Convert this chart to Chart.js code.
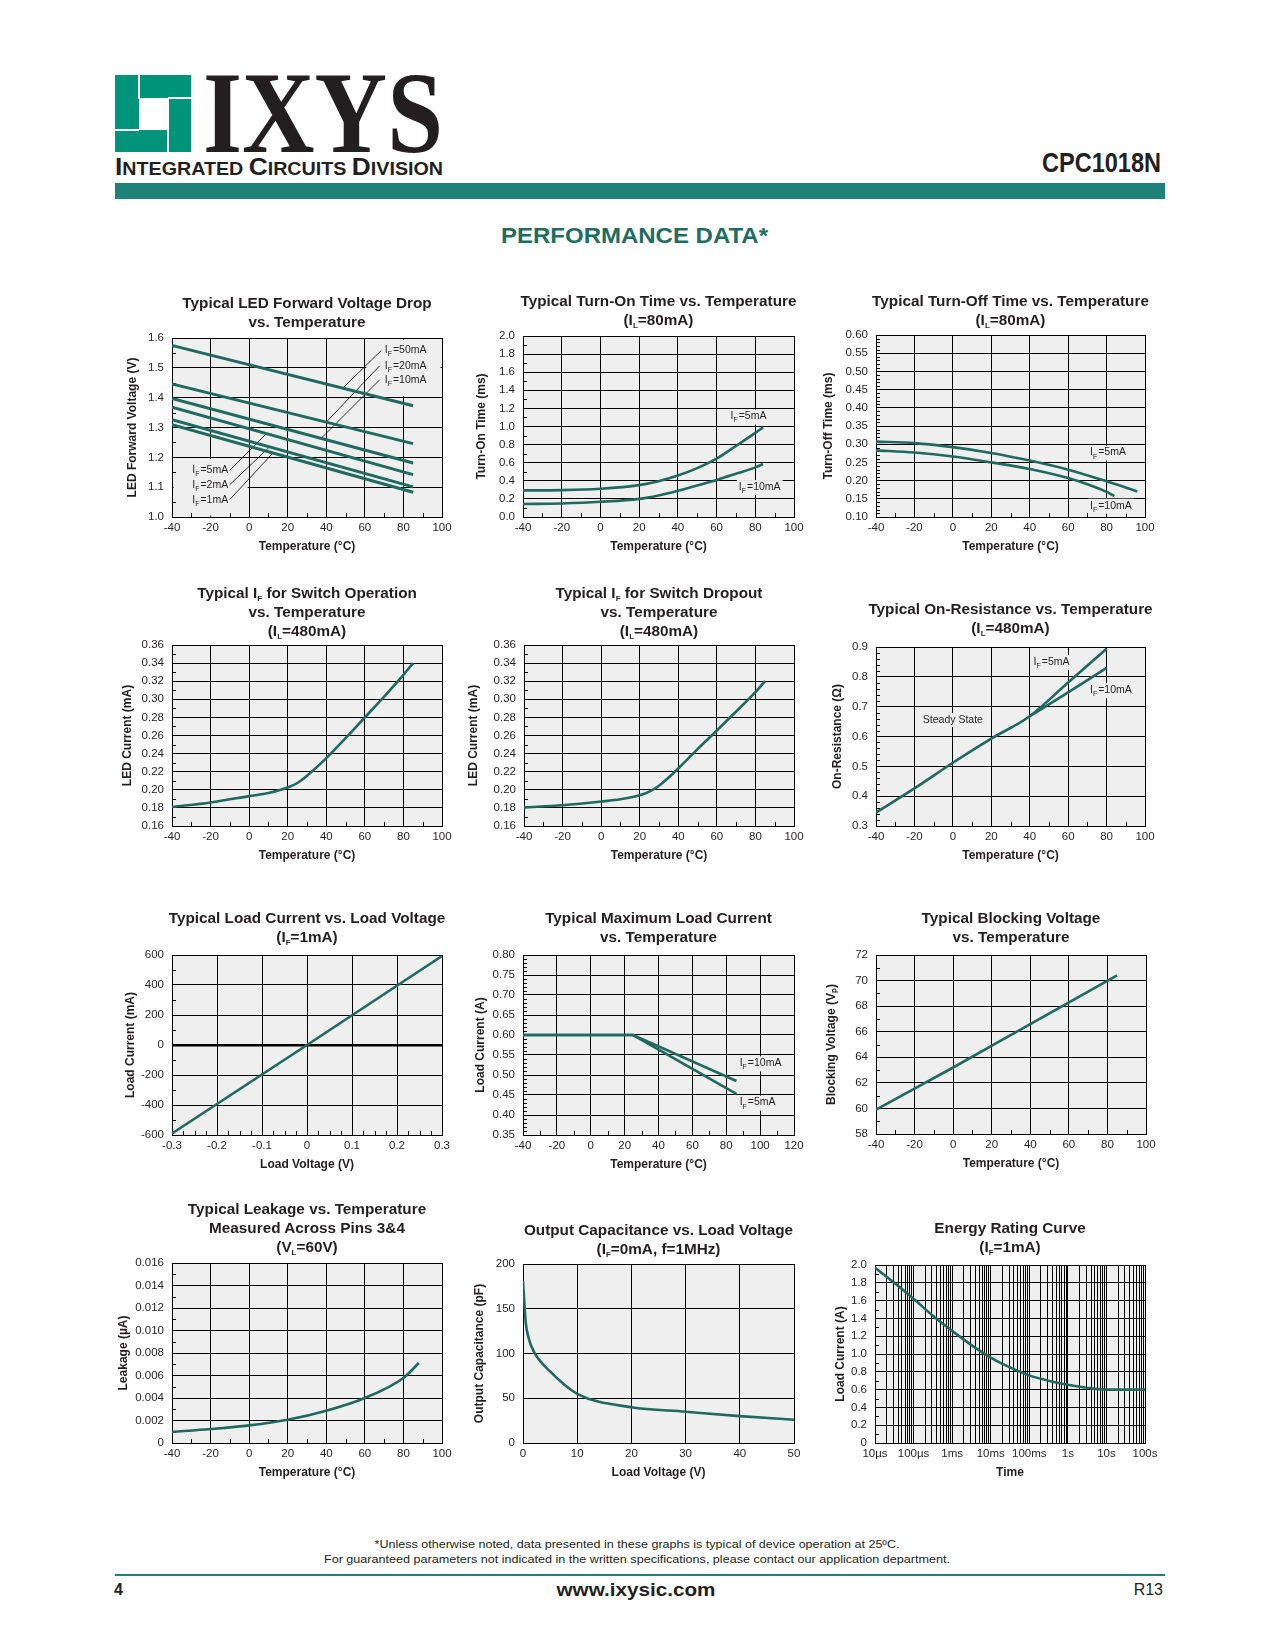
<!DOCTYPE html>
<html>
<head>
<meta charset="utf-8">
<title>CPC1018N Performance Data</title>
<script src="https://cdn.jsdelivr.net/npm/chart.js@4.4.1/dist/chart.umd.min.js"></script>
<style>
  body { margin: 0; background: #fff; }
  #page { position: relative; width: 1275px; height: 1650px; overflow: hidden;
          font-family: "Liberation Sans", Arial, sans-serif; color: #231f20; }
  #page canvas { position: absolute; }
  .ttl { position: absolute; font-weight: bold; font-size: 15.3px; line-height: 19px;
         text-align: center; white-space: nowrap; }
  .ttl sub { font-size: 8px; line-height: 0; vertical-align: -3px; }
</style>
</head>
<body>
<div id="page">
<svg width="1275" height="1650" style="position:absolute;left:0;top:0" font-family="Liberation Sans, Arial, sans-serif">
  <!-- logo mark -->
  <rect x="115" y="75" width="76" height="77" fill="#00957b"/>
  <rect x="139" y="98" width="30" height="32" fill="#fff"/>
  <rect x="138" y="75" width="2" height="24" fill="#fff"/>
  <rect x="168" y="97" width="23" height="2" fill="#fff"/>
  <rect x="167" y="129" width="2" height="23" fill="#fff"/>
  <rect x="115" y="129" width="24" height="2" fill="#fff"/>
  <text x="203" y="152" font-family="Liberation Serif, serif" font-weight="bold" font-size="116"
        textLength="240" lengthAdjust="spacingAndGlyphs" fill="#231f20">IXYS</text>
  <text x="115" y="175" font-weight="bold" textLength="328" lengthAdjust="spacingAndGlyphs" fill="#231f20"><tspan font-size="24">I</tspan><tspan font-size="18">NTEGRATED </tspan><tspan font-size="24">C</tspan><tspan font-size="18">IRCUITS </tspan><tspan font-size="24">D</tspan><tspan font-size="18">IVISION</tspan></text>
  <text x="1042" y="172" font-weight="bold" font-size="28" textLength="119" lengthAdjust="spacingAndGlyphs" fill="#231f20">CPC1018N</text>
  <rect x="115" y="183" width="1050" height="16" fill="#1e8279"/>
  <text x="501" y="243" font-weight="bold" font-size="22" textLength="267" lengthAdjust="spacingAndGlyphs" fill="#1f6d62">PERFORMANCE DATA*</text>
  <!-- footer -->
  <text x="637" y="1548" font-size="11" text-anchor="middle" textLength="525" lengthAdjust="spacingAndGlyphs" fill="#231f20">*Unless otherwise noted, data presented in these graphs is typical of device operation at 25ºC.</text>
  <text x="637" y="1563" font-size="11" text-anchor="middle" textLength="626" lengthAdjust="spacingAndGlyphs" fill="#231f20">For guaranteed parameters not indicated in the written specifications, please contact our application department.</text>
  <rect x="115" y="1574" width="1050" height="2" fill="#1e8279"/>
  <text x="114" y="1595" font-weight="bold" font-size="16" fill="#231f20">4</text>
  <text x="636" y="1596" font-weight="bold" font-size="18" text-anchor="middle" textLength="159" lengthAdjust="spacingAndGlyphs" fill="#231f20">www.ixysic.com</text>
  <text x="1163" y="1595" font-size="16" text-anchor="end" fill="#231f20">R13</text>
</svg>
</div>
<script>
// ---- data ----

// Typical LED forward voltage drop vs. temperature
const vfTemps = [-40, 85];
const vf50mA = [1.575, 1.373];
const vf20mA = [1.446, 1.246];
const vf10mA = [1.397, 1.181];
const vf5mA  = [1.368, 1.142];
const vf2mA  = [1.326, 1.101];
const vf1mA  = [1.309, 1.083];
const vfTagNames = ['50mA', '20mA', '10mA', '5mA', '2mA', '1mA'];
const vfTagX = [70.3, 70.3, 70.3, -29.5, -29.5, -29.5];
const vfTagY = [1.558, 1.507, 1.460, 1.156, 1.108, 1.058];
const vfLeadFromX = [68.5, 67.7, 67.7, -10.1, -10.1, -10.1];
const vfLeadFromY = [1.558, 1.507, 1.460, 1.156, 1.108, 1.058];
const vfLeadToX = [48.7, 40.0, 37.4, 8.9, 10.6, 12.4];
const vfLeadToY = [1.433, 1.318, 1.264, 1.279, 1.235, 1.215];

// Typical turn-on time vs. temperature
const tonTemps = [-40, -20, 0, 20, 30, 40, 50, 60, 70, 80, 84];
const ton5mA  = [0.294, 0.297, 0.312, 0.352, 0.395, 0.458, 0.540, 0.645, 0.785, 0.930, 0.990];
const ton10mA = [0.143, 0.150, 0.168, 0.200, 0.238, 0.290, 0.348, 0.410, 0.478, 0.548, 0.585];
const tonTagNames = ['5mA', '10mA'];
const tonTagX = [67.2, 71.5];
const tonTagY = [1.11, 0.331];

// Typical turn-off time vs. temperature
const toffTemps5 = [-40, -20, 0, 20, 40, 60, 80, 96];
const toff5mA = [0.307, 0.303, 0.292, 0.276, 0.255, 0.230, 0.198, 0.170];
const toffTemps10 = [-40, -20, 0, 20, 40, 60, 70, 80, 84];
const toff10mA = [0.283, 0.277, 0.266, 0.250, 0.232, 0.207, 0.190, 0.169, 0.158];
const toffTagNames = ['5mA', '10mA'];
const toffTagX = [71.4, 71.4];
const toffTagY = [0.277, 0.131];

// Typical IF for switch operation / dropout
const ifTemps = [-40, -20, 0, 10, 20, 25, 30, 40, 50, 60, 70, 80, 85];
const ifOperate = [0.181, 0.186, 0.193, 0.1965, 0.2025, 0.2075, 0.2155, 0.235, 0.257, 0.280, 0.303, 0.327, 0.340];
const ifDropout = [0.1806, 0.183, 0.187, 0.1895, 0.194, 0.198, 0.2045, 0.2235, 0.245, 0.2655, 0.2865, 0.308, 0.320];

// Typical on-resistance vs. temperature
const ronTemps5 = [-40, -20, 0, 20, 40, 60, 80];
const ron5mA = [0.345, 0.426, 0.512, 0.593, 0.668, 0.781, 0.894];
const ronTemps10 = [40, 60, 80];
const ron10mA = [0.668, 0.748, 0.830];
const ronTagNames = ['5mA', '10mA'];
const ronTagX = [42.0, 71.4];
const ronTagY = [0.850, 0.755];

// Typical load current vs. load voltage
const lvVolts = [-0.3, 0, 0.3];
const lvCurrent = [-590, 0, 593];

// Typical maximum load current vs. temperature
const mlcTemps = [-40, 25, 86];
const mlc10mA = [0.600, 0.600, 0.485];
const mlc5mA  = [0.600, 0.600, 0.453];
const mlcTagNames = ['10mA', '5mA'];
const mlcTagX = [87.9, 87.9];
const mlcTagY = [0.529, 0.431];

// Typical blocking voltage vs. temperature
const bvTemps = [-40, 0, 40, 85];
const bvVolts = [59.9, 63.2, 66.6, 70.4];

// Typical leakage vs. temperature
const lkTemps = [-40, -20, 0, 20, 40, 60, 80, 88];
const lkCurrent = [0.00098, 0.00124, 0.00157, 0.00207, 0.00287, 0.0040, 0.00578, 0.00711];

// Output capacitance vs. load voltage
const ocVolts = [0, 0.5, 1, 2, 5, 10, 20, 30, 40, 50];
const ocPf = [181, 135, 118, 102, 80, 55, 40, 35, 30, 26];

// Energy rating curve
const erTimes = [1e-5, 3.16e-5, 1e-4, 3.16e-4, 1e-3, 3.16e-3, 1e-2, 3.16e-2, 0.1, 0.316, 1, 3.16, 10, 100];
const erCurrent = [1.97, 1.80, 1.62, 1.43, 1.26, 1.10, 0.96, 0.85, 0.76, 0.70, 0.655, 0.62, 0.60, 0.60];
const erTickLabels = ['10µs', '100µs', '1ms', '10ms', '100ms', '1s', '10s', '100s'];

// ---- drawing ----
const INK = '#231f20';
const CURVE = '#1f6a5e';
const PLOT_BG = '#efefef';
const FONT = '"Liberation Sans", Arial, sans-serif';
const page = document.getElementById('page');
const deco = {};

function tags(names, xs, ys) {
  return names.map((n, i) => ({ sub: 'F', rest: '=' + n, x: xs[i], y: ys[i] }));
}

const decoPlugin = {
  id: 'deco',
  beforeDraw(chart) {
    const a = chart.chartArea, ctx = chart.ctx;
    ctx.save();
    ctx.fillStyle = PLOT_BG;
    ctx.fillRect(a.left, a.top, a.width, a.height);
    ctx.restore();
  },
  beforeDatasetsDraw(chart) {
    const d = deco[chart.canvas.id] || {};
    const ctx = chart.ctx, a = chart.chartArea, sx = chart.scales.x, sy = chart.scales.y;
    ctx.save();
    // areas where the original hides the grid behind its notes
    ctx.fillStyle = PLOT_BG;
    (d.masks || []).forEach(m => {
      const x1 = Math.max(sx.getPixelForValue(m[0]) + 1.5, a.left + 1.5);
      const x2 = Math.min(sx.getPixelForValue(m[2]) - 1.5, a.right - 1.5);
      const y1 = Math.max(sy.getPixelForValue(m[3]) + 1.5, a.top + 1.5);
      const y2 = Math.min(sy.getPixelForValue(m[1]) - 1.5, a.bottom - 1.5);
      ctx.fillRect(x1, y1, x2 - x1, y2 - y1);
    });
    // minor tick marks along bottom and left axes
    ctx.strokeStyle = '#000';
    ctx.lineWidth = 1;
    const near = (v, ticks) => ticks.some(t => Math.abs(t.value - v) < 1e-9 * Math.max(1, Math.abs(v)) + 1e-12);
    if (d.minorX) {
      const n = Math.round((sx.max - sx.min) / d.minorX);
      for (let i = 1; i < n; i++) {
        const v = sx.min + i * d.minorX;
        if (near(v, sx.ticks)) continue;
        const px = Math.round(sx.getPixelForValue(v)) + 0.5;
        ctx.beginPath(); ctx.moveTo(px, a.bottom); ctx.lineTo(px, a.bottom - 4); ctx.stroke();
      }
    }
    if (d.minorY) {
      const n = Math.round((sy.max - sy.min) / d.minorY);
      for (let i = 1; i < n; i++) {
        const v = sy.min + i * d.minorY;
        if (near(v, sy.ticks)) continue;
        const py = Math.round(sy.getPixelForValue(v)) + 0.5;
        ctx.beginPath(); ctx.moveTo(a.left, py); ctx.lineTo(a.left + 4, py); ctx.stroke();
      }
    }
    // curve names
    const f1 = '10.5px ' + FONT, f2 = '7px ' + FONT;
    ctx.textBaseline = 'middle';
    ctx.textAlign = 'left';
    (d.labels || []).forEach(l => {
      let px = sx.getPixelForValue(l.x);
      const py = sy.getPixelForValue(l.y);
      let w;
      if (l.text) {
        ctx.font = f1;
        w = ctx.measureText(l.text).width;
        if (l.center) px -= w / 2;
        ctx.fillStyle = PLOT_BG;
        ctx.fillRect(px - 2, py - 7, w + 4, 14);
        ctx.fillStyle = INK;
        ctx.fillText(l.text, px, py);
        return;
      }
      ctx.font = f1;
      const wI = ctx.measureText('I').width;
      const wR = ctx.measureText(l.rest).width;
      ctx.font = f2;
      const wS = ctx.measureText(l.sub).width;
      w = wI + wS + wR + 1;
      ctx.fillStyle = PLOT_BG;
      ctx.fillRect(px - 2, py - 7, w + 4, 15);
      ctx.fillStyle = INK;
      ctx.font = f1; ctx.fillText('I', px, py);
      ctx.font = f2; ctx.fillText(l.sub, px + wI, py + 4);
      ctx.font = f1; ctx.fillText(l.rest, px + wI + wS + 1, py);
    });
    ctx.restore();
  }
};

function line(xs, ys, opts) {
  return Object.assign({
    data: xs.map((x, i) => ({ x: x, y: ys[i] })),
    borderColor: CURVE, borderWidth: 2.6, pointRadius: 0, fill: false,
    cubicInterpolationMode: 'monotone'
  }, opts || {});
}

function leaders(fx, fy, tx, ty) {
  return fx.map((x, i) => line([x, tx[i]], [fy[i], ty[i]],
    { borderColor: '#000', borderWidth: 0.8, cubicInterpolationMode: 'default', tension: 0 }));
}

const fix = n => v => (Math.abs(v) < 1e-9 ? (0).toFixed(n) : v.toFixed(n));
const fixZero = n => v => (Math.abs(v) < 1e-9 ? '0' : v.toFixed(n));
const intFmt = v => String(Math.round(v));

function axis(dir, min, max, step, title, fmt) {
  return {
    type: 'linear', min: min, max: max,
    ticks: { stepSize: step, autoSkip: false, maxRotation: 0, padding: dir === 'x' ? 4 : 8,
             color: INK, font: { family: FONT, size: 11.5 }, callback: fmt },
    grid: { color: '#000', lineWidth: 1, drawTicks: false },
    border: { color: '#000', width: 1 },
    title: { display: true, text: title, color: INK, padding: 0,
             font: { family: FONT, size: 12, weight: 'bold' } }
  };
}

function addTitle(box, html) {
  const div = document.createElement('div');
  div.className = 'ttl';
  div.style.left = (box.x - 60) + 'px';
  div.style.width = (box.w + 120) + 'px';
  div.style.top = (box.t - 9.5) + 'px';
  div.innerHTML = html;
  page.appendChild(div);
}

function makeChart(id, box, title, datasets, xs, ys, d) {
  const padTop = 18, padRight = 18, xH = 37;
  const left = Math.round(box.ty - 7);
  const yW = box.x - left;
  const cv = document.createElement('canvas');
  cv.id = id;
  cv.width = yW + box.w + padRight;
  cv.height = padTop + box.h + xH;
  cv.style.left = left + 'px';
  cv.style.top = (box.y - padTop) + 'px';
  page.appendChild(cv);
  deco[id] = d || {};
  addTitle(box, title);
  xs.afterFit = s => { s.height = xH; };
  ys.afterFit = s => { s.width = yW; };
  return new Chart(cv, {
    type: 'line',
    data: { datasets: datasets },
    options: {
      responsive: false, animation: false, events: [],
      layout: { padding: { top: padTop, right: padRight, left: 0, bottom: 0 } },
      plugins: { legend: { display: false }, tooltip: { enabled: false } },
      scales: { x: xs, y: ys }
    },
    plugins: [decoPlugin]
  });
}

const TEMP = 'Temperature (°C)';

// 1
makeChart('c1', { x: 172, y: 338, w: 270, h: 179, ty: 132, t: 302 },
  'Typical LED Forward Voltage Drop<br>vs. Temperature',
  [vf50mA, vf20mA, vf10mA, vf5mA, vf2mA, vf1mA].map(v => line(vfTemps, v, { borderWidth: 3 }))
    .concat(leaders(vfLeadFromX, vfLeadFromY, vfLeadToX, vfLeadToY)),
  axis('x', -40, 100, 20, TEMP, intFmt),
  axis('y', 1.0, 1.6, 0.1, 'LED Forward Voltage (V)', fix(1)),
  { minorX: 10, minorY: 0.05, masks: [[60, 1.4, 100, 1.6], [-40, 1.0, 0, 1.2]],
    labels: tags(vfTagNames, vfTagX, vfTagY) });

// 2
makeChart('c2', { x: 523, y: 336, w: 271, h: 181, ty: 481, t: 300 },
  'Typical Turn-On Time vs. Temperature<br>(I<sub>L</sub>=80mA)',
  [line(tonTemps, ton5mA), line(tonTemps, ton10mA)],
  axis('x', -40, 100, 20, TEMP, intFmt),
  axis('y', 0, 2.0, 0.2, 'Turn-On Time (ms)', fix(1)),
  { minorX: 10, minorY: 0.1, labels: tags(tonTagNames, tonTagX, tonTagY) });

// 3
makeChart('c3', { x: 876, y: 335, w: 269, h: 182, ty: 828, t: 300 },
  'Typical Turn-Off Time vs. Temperature<br>(I<sub>L</sub>=80mA)',
  [line(toffTemps5, toff5mA), line(toffTemps10, toff10mA)],
  axis('x', -40, 100, 20, TEMP, intFmt),
  axis('y', 0.10, 0.60, 0.05, 'Turn-Off Time (ms)', fix(2)),
  { minorX: 10, minorY: 0.01, labels: tags(toffTagNames, toffTagX, toffTagY) });

// 4
makeChart('c4', { x: 172, y: 645, w: 270, h: 181, ty: 127, t: 592 },
  'Typical I<sub>F</sub> for Switch Operation<br>vs. Temperature<br>(I<sub>L</sub>=480mA)',
  [line(ifTemps, ifOperate)],
  axis('x', -40, 100, 20, TEMP, intFmt),
  axis('y', 0.16, 0.36, 0.02, 'LED Current (mA)', fix(2)),
  { minorX: 10, minorY: 0.01 });

// 5
makeChart('c5', { x: 524, y: 645, w: 270, h: 181, ty: 473, t: 592 },
  'Typical I<sub>F</sub> for Switch Dropout<br>vs. Temperature<br>(I<sub>L</sub>=480mA)',
  [line(ifTemps, ifDropout)],
  axis('x', -40, 100, 20, TEMP, intFmt),
  axis('y', 0.16, 0.36, 0.02, 'LED Current (mA)', fix(2)),
  { minorX: 10, minorY: 0.01 });

// 6
makeChart('c6', { x: 876, y: 647, w: 269, h: 179, ty: 837, t: 608 },
  'Typical On-Resistance vs. Temperature<br>(I<sub>L</sub>=480mA)',
  [line(ronTemps5, ron5mA), line(ronTemps10, ron10mA)],
  axis('x', -40, 100, 20, TEMP, intFmt),
  axis('y', 0.3, 0.9, 0.1, 'On-Resistance (Ω)', fix(1)),
  { minorX: 10, minorY: 0.02,
    labels: tags(ronTagNames, ronTagX, ronTagY).concat([{ text: 'Steady State', x: 0, y: 0.655, center: true }]) });

// 7
const lvY = axis('y', -600, 600, 200, 'Load Current (mA)', intFmt);
lvY.grid.lineWidth = c => (c.tick && c.tick.value === 0 ? 2.5 : 1);
makeChart('c7', { x: 172, y: 955, w: 270, h: 180, ty: 130, t: 917 },
  'Typical Load Current vs. Load Voltage<br>(I<sub>F</sub>=1mA)',
  [line(lvVolts, lvCurrent, { cubicInterpolationMode: 'default', tension: 0 })],
  axis('x', -0.3, 0.3, 0.1, 'Load Voltage (V)', fixZero(1)),
  lvY,
  { minorX: 0.025, minorY: 100 });

// 8
makeChart('c8', { x: 523, y: 955, w: 271, h: 180, ty: 480, t: 917 },
  'Typical Maximum Load Current<br>vs. Temperature',
  [line(mlcTemps, mlc10mA, { cubicInterpolationMode: 'default', tension: 0 }),
   line(mlcTemps, mlc5mA, { cubicInterpolationMode: 'default', tension: 0 })],
  axis('x', -40, 120, 20, TEMP, intFmt),
  axis('y', 0.35, 0.80, 0.05, 'Load Current (A)', fix(2)),
  { minorX: 10, minorY: 0.01, labels: tags(mlcTagNames, mlcTagX, mlcTagY) });

// 9
makeChart('c9', { x: 876, y: 955, w: 270, h: 179, ty: 831, t: 917 },
  'Typical Blocking Voltage<br>vs. Temperature',
  [line(bvTemps, bvVolts)],
  axis('x', -40, 100, 20, TEMP, intFmt),
  axis('y', 58, 72, 2, 'Blocking Voltage (Vₚ)', intFmt),
  { minorX: 10, minorY: 1 });

// 10
makeChart('c10', { x: 172, y: 1263, w: 270, h: 180, ty: 123, t: 1208 },
  'Typical Leakage vs. Temperature<br>Measured Across Pins 3&amp;4<br>(V<sub>L</sub>=60V)',
  [line(lkTemps, lkCurrent)],
  axis('x', -40, 100, 20, TEMP, intFmt),
  axis('y', 0, 0.016, 0.002, 'Leakage (µA)', fixZero(3)),
  { minorX: 10, minorY: 0.001 });

// 11
makeChart('c11', { x: 523, y: 1264, w: 271, h: 179, ty: 479, t: 1229 },
  'Output Capacitance vs. Load Voltage<br>(I<sub>F</sub>=0mA, f=1MHz)',
  [line(ocVolts, ocPf)],
  axis('x', 0, 50, 10, 'Load Voltage (V)', intFmt),
  axis('y', 0, 200, 50, 'Output Capacitance (pF)', intFmt),
  {});

// 12
const erGrid = [];
for (let e = -5; e < 2; e++) for (let m = 1; m < 10; m++) erGrid.push(m * Math.pow(10, e));
erGrid.push(100);
const erX = axis('x', 1e-5, 100, null, 'Time', v => {
  const e = Math.log10(v);
  return Math.abs(e - Math.round(e)) < 1e-6 ? erTickLabels[Math.round(e) + 5] : '';
});
erX.type = 'logarithmic';
delete erX.ticks.stepSize;
erX.afterBuildTicks = s => { s.ticks = erGrid.map(v => ({ value: v })); };
makeChart('c12', { x: 875, y: 1265, w: 270, h: 178, ty: 840, t: 1227 },
  'Energy Rating Curve<br>(I<sub>F</sub>=1mA)',
  [line(erTimes, erCurrent)],
  erX,
  axis('y', 0, 2.0, 0.2, 'Load Current (A)', fixZero(1)),
  { minorY: 0.1 });
</script>
</body>
</html>
